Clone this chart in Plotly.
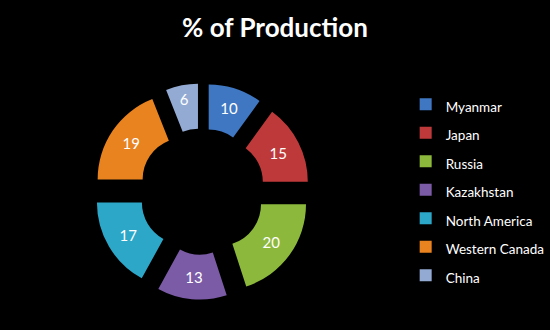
import plotly.graph_objects as go

regions = ["Myanmar", "Japan", "Russia", "Kazakhstan", "North America", "Western Canada", "China"]
shares = [10, 15, 20, 13, 17, 19, 6]
colors = ["#3F77C2", "#BE3A3A", "#8CB83C", "#7B5BA5", "#2DA7C8", "#E8831F", "#93AAD3"]

fig = go.Figure(go.Pie(
    labels=[f'<span style="font-size:13.5px">{r}</span>' for r in regions],
    values=shares,
    sort=False,
    direction="clockwise",
    rotation=0,
    hole=0.48,
    pull=[0.25] * len(shares),
    marker=dict(colors=colors, line=dict(width=0)),
    textinfo="value",
    textposition="inside",
    insidetextorientation="horizontal",
    textfont=dict(color="white", size=15, family="Lato, 'Open Sans', sans-serif"),
    domain=dict(x=[0.172, 0.568], y=[0.089, 0.75]),
))

fig.update_layout(
    width=550, height=330,
    margin=dict(l=0, r=0, t=0, b=0),
    paper_bgcolor="black",
    plot_bgcolor="black",
    title=dict(text="<b>% of Production</b>", x=0.5, xanchor="center", y=0.915, yanchor="middle",
               font=dict(color="white", size=26, family="Lato, 'Open Sans', sans-serif")),
    legend=dict(x=0.743, y=0.424, xanchor="left", yanchor="middle",
                font=dict(color="white", size=19.6, family="Lato, 'Open Sans', sans-serif"),
                bgcolor="rgba(0,0,0,0)", itemclick=False),
    showlegend=True,
)

fig.write_html("out.html")
